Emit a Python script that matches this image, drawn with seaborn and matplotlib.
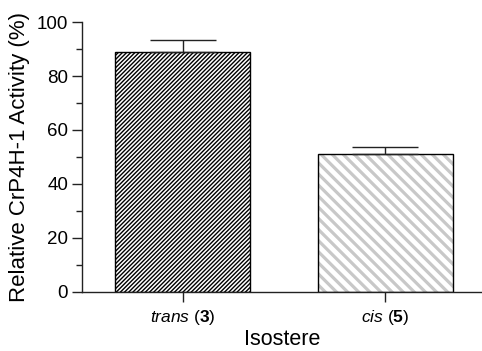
import matplotlib
matplotlib.use("Agg")
import matplotlib.pyplot as plt
import seaborn as sns
import pandas as pd

# values
isosteres = [r"$\it{trans}$ ($\bf{3}$)", r"$\it{cis}$ ($\bf{5}$)"]
activity = [89.0, 50.9]
activity_err = [4.4, 2.7]
hatches = ["/" * 8, "\\" * 3]
hatch_colors = ["black", "#c8c8c8"]
hatch_widths = [1.0, 2.3]

sns.set_theme(style="ticks")
plt.rcParams["font.family"] = ["Liberation Sans", "DejaVu Sans"]
plt.rcParams["mathtext.fontset"] = "custom"
plt.rcParams["mathtext.rm"] = "Liberation Sans"
plt.rcParams["mathtext.it"] = "Liberation Sans:italic"
plt.rcParams["mathtext.bf"] = "Liberation Sans:bold"
plt.rcParams["text.color"] = "black"
plt.rcParams["axes.labelcolor"] = "black"

df = pd.DataFrame({"Isostere": isosteres, "Activity": activity})

fig = plt.figure(figsize=(4.82, 3.51), dpi=100)
ax = fig.add_axes([0.170, 0.169, 0.83, 0.768])

# hatched fill layer
sns.barplot(data=df, x="Isostere", y="Activity", color="white", width=0.668,
            linewidth=0, errorbar=None, ax=ax)
for patch, h, c, w in zip(ax.patches, hatches, hatch_colors, hatch_widths):
    patch.set_hatch(h)
    patch.set_edgecolor(c)
    patch.set_facecolor("white")
    if hasattr(patch, "set_hatch_linewidth"):
        patch.set_hatch_linewidth(w)

# black outline layer
sns.barplot(data=df, x="Isostere", y="Activity", fill=False, width=0.668,
            edgecolor="black", linewidth=1.0, errorbar=None, ax=ax)

# upper error bars only
ax.errorbar(range(len(activity)), activity,
            yerr=[[0] * len(activity_err), activity_err],
            fmt="none", ecolor="#222222", elinewidth=1.0, capsize=24,
            capthick=1.0, zorder=1)

ax.set_xlim(-0.5, 1.48)
ax.set_ylim(0, 100)
ax.set_yticks([0, 20, 40, 60, 80, 100])
ax.set_yticks([10, 30, 50, 70, 90], minor=True)

ax.tick_params(axis="both", which="major", direction="out", length=7,
               width=1.0, color="#222222", labelcolor="black")
ax.tick_params(axis="y", which="major", labelsize=13.5, pad=3)
ax.tick_params(axis="x", which="major", labelsize=12.5, pad=5)
ax.tick_params(axis="y", which="minor", direction="out", length=4.5,
               width=1.0, color="#222222")

for side in ["top", "right"]:
    ax.spines[side].set_visible(False)
for side in ["left", "bottom"]:
    ax.spines[side].set_linewidth(1.0)
    ax.spines[side].set_color("#222222")

ax.set_xlabel("Isostere", fontsize=15.5, labelpad=1, color="black")
ax.set_ylabel("Relative CrP4H-1 Activity (%)", fontsize=16, labelpad=5,
              color="black")

fig.savefig("out.png", dpi=100)
